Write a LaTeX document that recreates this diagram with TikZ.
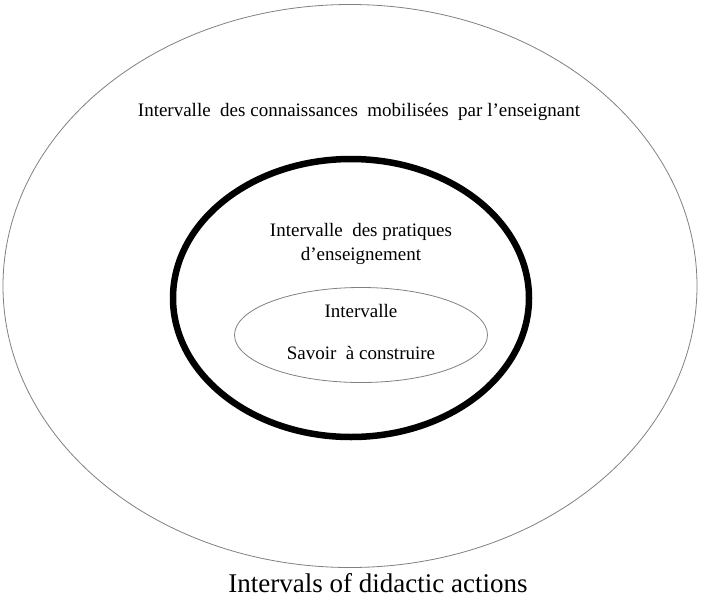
\documentclass[tikz,border=0pt]{standalone}
\usepackage{fontspec}
\setmainfont{Liberation Serif}
\usetikzlibrary{shapes.geometric, positioning}

\begin{document}
\begin{tikzpicture}[
    x=1pt, y=-1pt,
    ring/.style={ellipse, draw, inner sep=0pt},
    label/.style={font=\fontsize{19}{24}\selectfont, align=center},
    caption/.style={font=\fontsize{27}{30}\selectfont}
]

\useasboundingbox (0,0) rectangle (701,597);

\node[ring, draw=gray, line width=0.8pt, minimum width=694pt, minimum height=563pt] (outer_ring) at (350,286) {};
\node[ring, line width=6.5pt, minimum width=356pt, minimum height=278pt] (middle_ring) at (351,298) {};
\node[ring, draw=gray, line width=0.8pt, minimum width=253pt, minimum height=95pt] (inner_ring) at (361,335) {};

\node[label] (outer_text) at (359,112) {Intervalle~~des connaissances~~mobilisées~~par l’enseignant};
\node[label] (middle_text) at (361,244) {Intervalle~~des pratiques\\d’enseignement};
\node[label] (inner_title) at (361,311) {Intervalle};
\node[label] (inner_text) at (361,353) {Savoir~~à construire};

\node[caption] (title) at (378,583) {Intervals of didactic actions};

\end{tikzpicture}
\end{document}
